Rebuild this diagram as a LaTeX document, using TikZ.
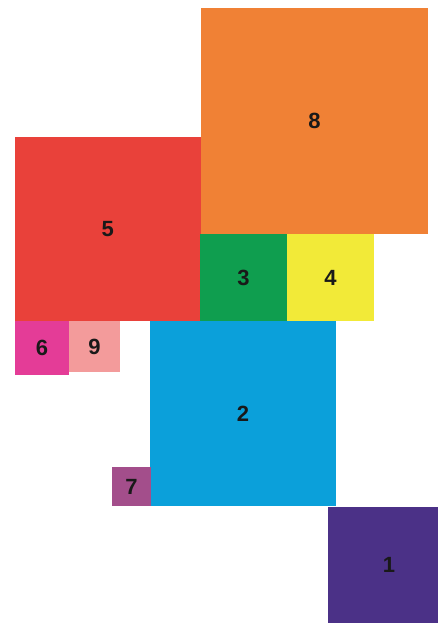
\documentclass[tikz,border=0pt]{standalone}
\usepackage{fontspec}
\setmainfont{Liberation Sans}
\definecolor{c1}{HTML}{4B3187}
\definecolor{c2}{HTML}{0BA0DA}
\definecolor{c3}{HTML}{0F9E4F}
\definecolor{c4}{HTML}{F2EA38}
\definecolor{c5}{HTML}{E9413A}
\definecolor{c6}{HTML}{E43C97}
\definecolor{c7}{HTML}{A34E8B}
\definecolor{c8}{HTML}{F08135}
\definecolor{c9}{HTML}{F39B9B}
\begin{document}
\begin{tikzpicture}[x=1pt,y=-1pt,
  sq/.style={anchor=north west,inner sep=0pt,outer sep=0pt,draw=none,
    font=\bfseries\fontsize{22}{22}\selectfont,text=black!90}]
\useasboundingbox (0,0) rectangle (438,623);
\node[sq,fill=c8,minimum width=227pt,minimum height=226pt] (s8) at (201,8) {8};
\node[sq,fill=c5,minimum width=185.5pt,minimum height=184pt] (s5) at (15,137) {5};
\node[sq,fill=c3,minimum width=87pt,minimum height=87pt] (s3) at (200,234) {3};
\node[sq,fill=c4,minimum width=87pt,minimum height=87pt] (s4) at (287,234) {4};
\node[sq,fill=c2,minimum width=186pt,minimum height=185pt] (s2) at (150,321) {2};
\node[sq,fill=c6,minimum width=54pt,minimum height=54pt] (s6) at (15,321) {6};
\node[sq,fill=c9,minimum width=51pt,minimum height=51pt] (s9) at (69,321) {9};
\node[sq,fill=c7,minimum width=39pt,minimum height=39pt] (s7) at (112,467) {7};
\node[sq,fill=c1,minimum width=122pt,minimum height=116pt] (s1) at (328,507) {1};
\end{tikzpicture}
\end{document}
